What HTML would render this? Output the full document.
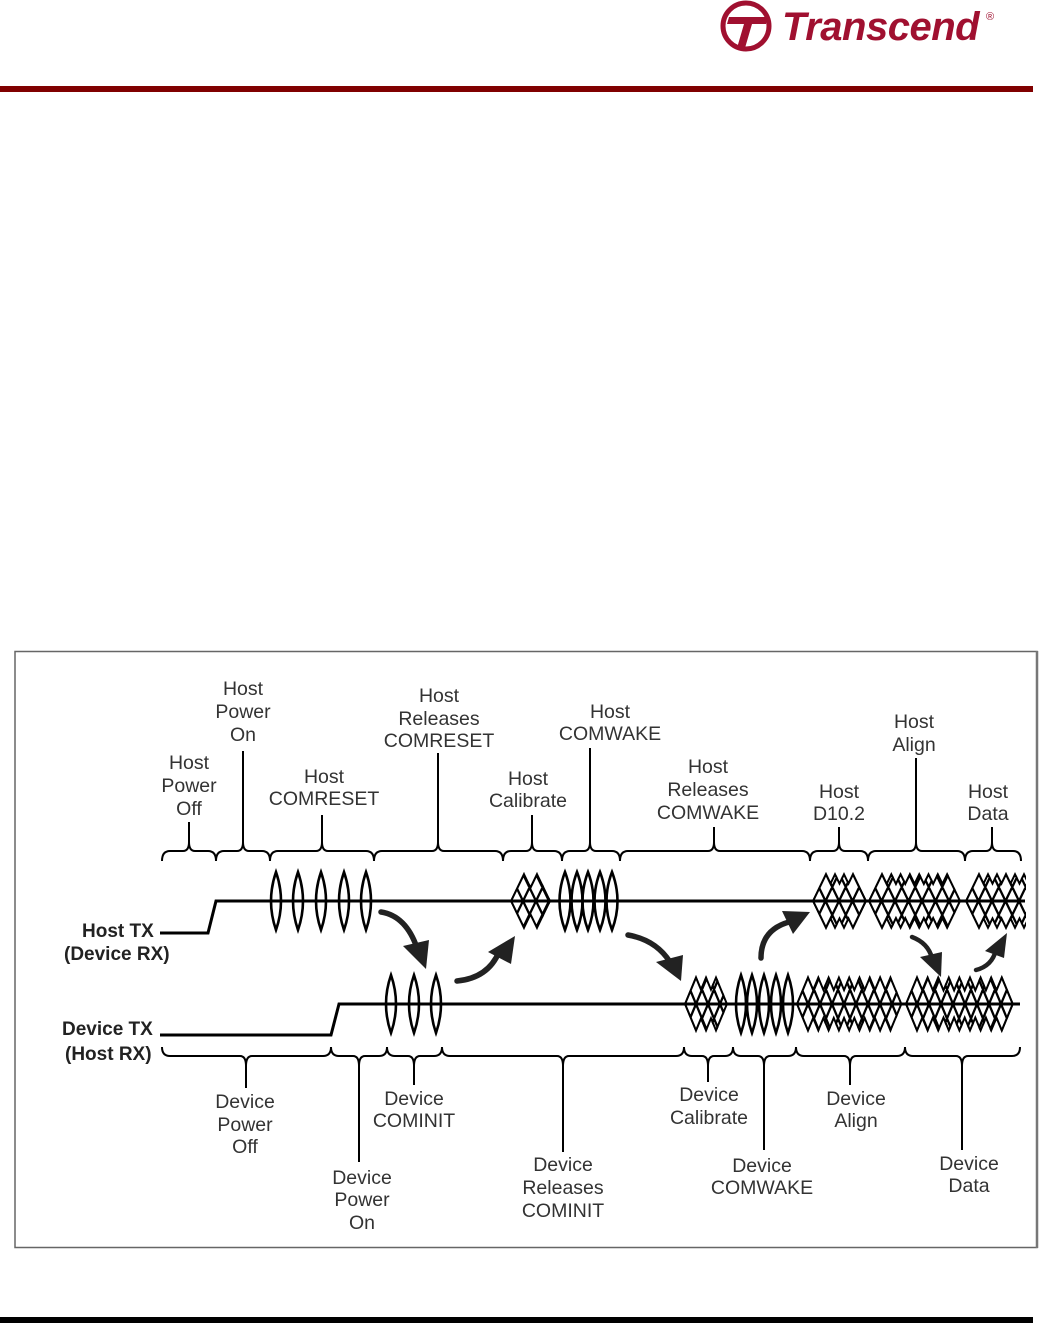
<!DOCTYPE html>
<html><head><meta charset="utf-8">
<style>
html,body{margin:0;padding:0;background:#fff;}
body{width:1046px;height:1323px;position:relative;overflow:hidden;font-family:"Liberation Sans",Arial,sans-serif;}
svg{position:absolute;left:0;top:0;}
</style></head><body>
<svg id="S" width="1046" height="1323" viewBox="0 0 1046 1323" xmlns="http://www.w3.org/2000/svg">
<defs id="D"></defs>
<g>
  <circle cx="746" cy="26" r="23" fill="none" stroke="#a01030" stroke-width="5"/>
  <path d="M729 17 L768 17 L766 24 L752 24 L745 48 L737 48 L744 24 L727 24 Z" fill="#a01030"/>
  <text x="782" y="40" font-family="Liberation Sans, sans-serif" font-size="40" font-weight="bold" font-style="italic" fill="#a01030" letter-spacing="-0.5">Transcend</text>
  <text x="986" y="20" font-size="11" fill="#a01030">®</text>
</g>
<rect x="0" y="86" width="1033" height="6" fill="#800000"/>
<rect x="0" y="1317" width="1033" height="6" fill="#000"/>
<rect x="15" y="651.5" width="1022" height="596" fill="none" stroke="#666" stroke-width="1.5"/>
<line x1="1037" y1="651" x2="1037" y2="1248" stroke="#777" stroke-width="2.5"/>

<g id="wave" fill="none" stroke="#000" stroke-width="3" stroke-linejoin="miter"></g>
<g id="braces" fill="none" stroke="#000" stroke-width="2"></g>

<g fill="#222" stroke="#222" stroke-linecap="round">
  <path d="M381 912 Q406 916 417 948" fill="none" stroke-width="5.5"/>
  <polygon points="403,946 429,940 426,969" stroke="none"/>
  <path d="M457 981 Q488 978 499 952" fill="none" stroke-width="5.5"/>
  <polygon points="488,952 515,936 511,964" stroke="none"/>
  <path d="M628 935 Q656 940 670 962" fill="none" stroke-width="5.5"/>
  <polygon points="656,962 683,955 681,981" stroke="none"/>
  <path d="M761 958 Q761 930 789 922" fill="none" stroke-width="5.5"/>
  <polygon points="782,911 810,912 793,934" stroke="none"/>
  <path d="M912 937 Q928 943 932 958" fill="none" stroke-width="4.5"/>
  <polygon points="920,957 942,952 941,977" stroke="none"/>
  <path d="M976 970 Q992 966 996 950" fill="none" stroke-width="4.5"/>
  <polygon points="985,951 1007,933 1004,958" stroke="none"/>
</g>

<g font-family="Liberation Sans, Arial, sans-serif" font-size="19.5" fill="#333" text-anchor="middle">
  <text x="243" y="695">Host</text><text x="243" y="718">Power</text><text x="243" y="741">On</text>
  <text x="189" y="769">Host</text><text x="189" y="792">Power</text><text x="189" y="815">Off</text>
  <text x="324" y="783">Host</text><text x="324" y="805">COMRESET</text>
  <text x="439" y="702">Host</text><text x="439" y="725">Releases</text><text x="439" y="747">COMRESET</text>
  <text x="528" y="785">Host</text><text x="528" y="807">Calibrate</text>
  <text x="610" y="718">Host</text><text x="610" y="740">COMWAKE</text>
  <text x="708" y="773">Host</text><text x="708" y="796">Releases</text><text x="708" y="819">COMWAKE</text>
  <text x="839" y="798">Host</text><text x="839" y="820">D10.2</text>
  <text x="914" y="728">Host</text><text x="914" y="751">Align</text>
  <text x="988" y="798">Host</text><text x="988" y="820">Data</text>
  <text x="245" y="1108">Device</text><text x="245" y="1131">Power</text><text x="245" y="1153">Off</text>
  <text x="362" y="1184">Device</text><text x="362" y="1206">Power</text><text x="362" y="1229">On</text>
  <text x="414" y="1105">Device</text><text x="414" y="1127">COMINIT</text>
  <text x="563" y="1171">Device</text><text x="563" y="1194">Releases</text><text x="563" y="1217">COMINIT</text>
  <text x="709" y="1101">Device</text><text x="709" y="1124">Calibrate</text>
  <text x="762" y="1172">Device</text><text x="762" y="1194">COMWAKE</text>
  <text x="856" y="1105">Device</text><text x="856" y="1127">Align</text>
  <text x="969" y="1170">Device</text><text x="969" y="1192">Data</text>
</g>
<g font-family="Liberation Sans, Arial, sans-serif" font-size="19" font-weight="bold" fill="#222">
  <text x="82" y="937">Host TX</text>
  <text x="64" y="960">(Device RX)</text>
  <text x="62" y="1035">Device TX</text>
  <text x="65" y="1060">(Host RX)</text>
</g>
</svg>
<script>
(function(){
var NS="http://www.w3.org/2000/svg";
var W=document.getElementById("wave"),B=document.getElementById("braces"),D=document.getElementById("D");
function P(g,d,sw){var p=document.createElementNS(NS,"path");p.setAttribute("d",d);if(sw)p.setAttribute("stroke-width",sw);g.appendChild(p);return p;}
P(W,"M160 933 L208 933 L216 901 L1025 901");
P(W,"M160 1035 L331 1035 L339 1004 L1020 1004");
function lens(cx,cy,h,w){var r=w/2;P(W,"M"+cx+" "+(cy-h)+" Q"+(cx-r*2)+" "+cy+" "+cx+" "+(cy+h)+" Q"+(cx+r*2)+" "+cy+" "+cx+" "+(cy-h)+" Z",2.6);}
var cid=0;
function clip(el){var id="c"+(cid++);var cp=document.createElementNS(NS,"clipPath");cp.setAttribute("id",id);cp.appendChild(el);D.appendChild(cp);return "url(#"+id+")";}
function lattice(x0,n,a,s,cy,h,maxx,ls){
  var k=h/a, x1=x0+(n-1)*s+2*a;
  var top=[[x0,cy]],bot=[[x0,cy]];
  for(var i=0;i<n;i++){var c=x0+a+i*s;top.push([c,cy-h]);bot.push([c,cy+h]);
    if(i<n-1){var v=c+s/2, dy=h-(s/2)*k; top.push([v,cy-dy]);bot.push([v,cy+dy]);}}
  top.push([x1,cy]);
  var pts=top.concat(bot.reverse());
  var env="M"+pts.map(function(p){return p[0].toFixed(2)+" "+p[1].toFixed(2);}).join(" L")+" Z";
  var cpp=document.createElementNS(NS,"path");cpp.setAttribute("d",env);
  var g=document.createElementNS(NS,"g");g.setAttribute("clip-path",clip(cpp));
  var outer=W;
  if(maxx){var g2=document.createElementNS(NS,"g");var r=document.createElementNS(NS,"rect");r.setAttribute("x",x0-5);r.setAttribute("y",cy-h-5);r.setAttribute("width",maxx-x0+5);r.setAttribute("height",2*h+10);g2.setAttribute("clip-path",clip(r));W.appendChild(g2);outer=g2;}
  outer.appendChild(g);
  var L=ls||s, d="", span=2*a+(n-1)*s;
  for(var j=-20;j<=Math.ceil(span/L)+20;j++){
    var bx=x0+j*L, ex=h/k+3;
    d+="M"+(bx-ex)+" "+(cy+ex*k)+" L"+(bx+ex)+" "+(cy-ex*k)+" ";
    d+="M"+(bx-ex)+" "+(cy-ex*k)+" L"+(bx+ex)+" "+(cy+ex*k)+" ";
  }
  P(g,d,2.3);
  P(g,env,4);
}
[276,298,321,344,366].forEach(function(x){lens(x,901,29,10);});
lattice(510,2,14,13,901,29);
[565,577,588,600,612].forEach(function(x){lens(x,901,29,11);});
lattice(812,4,14,9,901,29,0,13.5);
lattice(868,8,14,9.3,901,29,0,13.5);
lattice(965,6,14,9,901,29,1026,13.5);
[391,414,436].forEach(function(x){lens(x,1004,29,10);});
lattice(684,3,12,10,1004,29,0,12);
[741,752,764,776,788].forEach(function(x){lens(x,1004,29,10);});
lattice(796,9,12,10.3,1004,29,0,12);
lattice(905,9,12,10.6,1004,29,0,12);
function braceTop(x0,x1,t,top){var y=851;P(B,"M"+x0+" 861 Q"+x0+" "+y+" "+(x0+8)+" "+y+" L"+(t-6)+" "+y+" Q"+t+" "+y+" "+t+" 842 Q"+t+" "+y+" "+(t+6)+" "+y+" L"+(x1-8)+" "+y+" Q"+x1+" "+y+" "+x1+" 861");P(B,"M"+t+" 842 L"+t+" "+top);}
function braceBot(x0,x1,t,bot){var y=1056;P(B,"M"+x0+" 1047 Q"+x0+" "+y+" "+(x0+8)+" "+y+" L"+(t-6)+" "+y+" Q"+t+" "+y+" "+t+" 1066 Q"+t+" "+y+" "+(t+6)+" "+y+" L"+(x1-8)+" "+y+" Q"+x1+" "+y+" "+x1+" 1047");P(B,"M"+t+" 1066 L"+t+" "+bot);}
braceTop(162,216,189,822);braceTop(216,270,243,751);braceTop(270,374,322,815);braceTop(374,503,438,753);
braceTop(503,562,532,815);braceTop(562,620,590,748);braceTop(620,810,714,827);braceTop(810,868,839,827);
braceTop(868,965,916,758);braceTop(965,1021,992,827);
braceBot(162,331,246,1088);braceBot(331,387,359,1162);braceBot(387,442,414,1085);braceBot(442,684,563,1152);
braceBot(684,733,708,1082);braceBot(733,796,764,1150);braceBot(796,905,850,1085);braceBot(905,1020,962,1150);
})();
</script>
</body></html>
